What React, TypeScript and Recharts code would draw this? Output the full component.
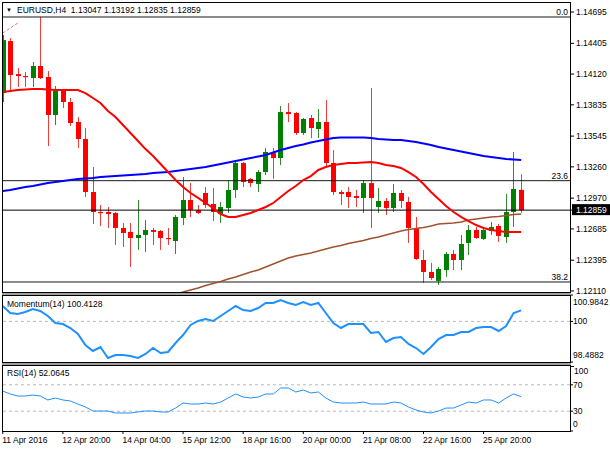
import React from 'react';
import { ComposedChart, Bar, Line, XAxis, YAxis, ReferenceLine } from 'recharts';

const FONT = '"Liberation Sans", Arial, sans-serif';
const FS = 8.5;
const GREEN = '#008000';
const RED = '#ff0000';

const opens = [1.13944, 1.14426, 1.14120, 1.14102, 1.14083, 1.14195, 1.14093, 1.13741, 1.13963, 1.13861,
  1.13676, 1.13518, 1.13027, 1.12842, 1.12842, 1.12833, 1.12694, 1.12657, 1.12601, 1.12629,
  1.12675, 1.12666, 1.12601, 1.12573, 1.12786, 1.12953, 1.12860, 1.13018, 1.12916, 1.12823,
  1.12879, 1.13046, 1.13296, 1.13148, 1.13101, 1.13212, 1.13388, 1.13342, 1.13768, 1.13759,
  1.13574, 1.13713, 1.13611, 1.13676, 1.13296, 1.13027, 1.13027, 1.12990, 1.12972, 1.13110,
  1.12888, 1.12944, 1.12879, 1.13018, 1.12935, 1.12694, 1.12397, 1.12286, 1.12203, 1.12304,
  1.12453, 1.12397, 1.12555, 1.12675, 1.12592, 1.12666, 1.12712, 1.12610, 1.12842, 1.13047];

const highs = [1.14482, 1.14454, 1.14176, 1.14139, 1.14232, 1.14649, 1.14148, 1.14009, 1.13972, 1.13898,
  1.13722, 1.13620, 1.13259, 1.12907, 1.12888, 1.12842, 1.12740, 1.12740, 1.12953, 1.12768,
  1.12694, 1.12675, 1.12694, 1.12814, 1.13166, 1.13110, 1.12907, 1.13073, 1.13064, 1.12935,
  1.13138, 1.13305, 1.13305, 1.13157, 1.13231, 1.13435, 1.13435, 1.13824, 1.13852, 1.13768,
  1.13713, 1.13741, 1.13796, 1.13880, 1.13416, 1.13046, 1.13073, 1.13046, 1.13138, 1.13991,
  1.13064, 1.12972, 1.13101, 1.13046, 1.12981, 1.12796, 1.12490, 1.12369, 1.12332, 1.12471,
  1.12490, 1.12629, 1.12721, 1.12703, 1.12694, 1.12749, 1.12731, 1.13009, 1.13398, 1.13192];

const lows = [1.13861, 1.13972, 1.14000, 1.14000, 1.14000, 1.14074, 1.13453, 1.13648, 1.13805, 1.13639,
  1.13435, 1.12981, 1.12731, 1.12712, 1.12694, 1.12536, 1.12518, 1.12332, 1.12490, 1.12471,
  1.12536, 1.12490, 1.12536, 1.12453, 1.12721, 1.12796, 1.12823, 1.12879, 1.12758, 1.12740,
  1.12833, 1.12972, 1.13073, 1.13073, 1.13027, 1.13185, 1.13148, 1.13277, 1.13676, 1.13555,
  1.13555, 1.13527, 1.13527, 1.13259, 1.12999, 1.12907, 1.12879, 1.12888, 1.12833, 1.12694,
  1.12833, 1.12814, 1.12842, 1.12879, 1.12555, 1.12397, 1.12184, 1.12212, 1.12166, 1.12240,
  1.12304, 1.12304, 1.12443, 1.12592, 1.12582, 1.12629, 1.12564, 1.12555, 1.12703, 1.12835];

const closes = [1.14435, 1.14111, 1.14102, 1.14093, 1.14195, 1.14083, 1.13741, 1.13963, 1.13861, 1.13666,
  1.13518, 1.13027, 1.12842, 1.12833, 1.12823, 1.12694, 1.12647, 1.12601, 1.12629, 1.12675,
  1.12657, 1.12601, 1.12592, 1.12796, 1.12953, 1.12860, 1.12833, 1.12907, 1.12842, 1.12888,
  1.13046, 1.13296, 1.13120, 1.13110, 1.13212, 1.13398, 1.13342, 1.13768, 1.13750, 1.13574,
  1.13704, 1.13620, 1.13676, 1.13296, 1.13027, 1.13009, 1.12981, 1.12972, 1.13110, 1.12972,
  1.12944, 1.12879, 1.13018, 1.12944, 1.12694, 1.12406, 1.12286, 1.12230, 1.12314, 1.12453,
  1.12397, 1.12545, 1.12675, 1.12601, 1.12675, 1.12703, 1.12620, 1.12842, 1.13055, 1.12859];

const maRed = [1.13954, 1.13963, 1.13972, 1.13977, 1.13981, 1.13981, 1.13977, 1.13972, 1.13972, 1.13972,
  1.13972, 1.13944, 1.13898, 1.13852, 1.13778, 1.13722, 1.13648, 1.13574, 1.13500, 1.13425,
  1.13361, 1.13287, 1.13212, 1.13138, 1.13073, 1.13018, 1.12972, 1.12925, 1.12879, 1.12823,
  1.12796, 1.12796, 1.12814, 1.12833, 1.12860, 1.12888, 1.12925, 1.12981, 1.13036, 1.13083,
  1.13138, 1.13175, 1.13231, 1.13259, 1.13277, 1.13287, 1.13296, 1.13296, 1.13300, 1.13305,
  1.13296, 1.13277, 1.13268, 1.13250, 1.13212, 1.13166, 1.13101, 1.13027, 1.12962, 1.12897,
  1.12842, 1.12796, 1.12758, 1.12721, 1.12694, 1.12675, 1.12666, 1.12657, 1.12657, 1.12657];

const maBlue = [1.13036, 1.13046, 1.13060, 1.13073, 1.13083, 1.13097, 1.13110, 1.13120, 1.13129, 1.13138,
  1.13148, 1.13152, 1.13157, 1.13166, 1.13171, 1.13175, 1.13180, 1.13185, 1.13189, 1.13194,
  1.13203, 1.13208, 1.13212, 1.13222, 1.13231, 1.13240, 1.13250, 1.13259, 1.13273, 1.13287,
  1.13300, 1.13314, 1.13328, 1.13342, 1.13356, 1.13370, 1.13393, 1.13416, 1.13435, 1.13453,
  1.13467, 1.13486, 1.13500, 1.13514, 1.13527, 1.13532, 1.13532, 1.13532, 1.13532, 1.13527,
  1.13518, 1.13514, 1.13509, 1.13509, 1.13500, 1.13490, 1.13476, 1.13463, 1.13444, 1.13430,
  1.13416, 1.13402, 1.13388, 1.13375, 1.13361, 1.13351, 1.13342, 1.13333, 1.13328, 1.13324];

const maBrown = [null, null, null, null, null, null, null, null, null, null,
  null, null, null, null, null, null, null, null, null, null,
  1.12017, 1.12036, 1.12054, 1.12078, 1.12101, 1.12119, 1.12138, 1.12161, 1.12179, 1.12198,
  1.12221, 1.12240, 1.12263, 1.12286, 1.12304, 1.12332, 1.12360, 1.12388, 1.12416, 1.12434,
  1.12448, 1.12462, 1.12480, 1.12499, 1.12518, 1.12531, 1.12550, 1.12564, 1.12578, 1.12596,
  1.12610, 1.12629, 1.12647, 1.12666, 1.12680, 1.12689, 1.12698, 1.12712, 1.12731, 1.12735,
  1.12740, 1.12749, 1.12768, 1.12777, 1.12786, 1.12796, 1.12800, 1.12809, 1.12819, 1.12823];

const trendLine = [1.14500, 1.14547, 1.14593];

const momentum = [100.574, 100.314, 100.276, 100.351, 100.463, 100.388, 100.202, 99.941, 99.904, 99.755,
  99.531, 99.121, 98.898, 99.047, 98.637, 98.749, 98.749, 98.712, 98.637, 98.786,
  99.010, 98.823, 98.861, 99.196, 99.494, 99.867, 100.016, 100.090, 100.016, 100.202,
  100.388, 100.574, 100.425, 100.388, 100.500, 100.686, 100.686, 100.798, 100.686, 100.612,
  100.723, 100.612, 100.686, 100.314, 99.941, 99.755, 99.904, 99.904, 99.904, 99.569,
  99.606, 99.233, 99.382, 99.420, 99.159, 99.010, 98.786, 99.047, 99.345, 99.494,
  99.494, 99.606, 99.606, 99.755, 99.792, 99.792, 99.643, 99.829, 100.314, 100.4128];

const rsi = [60.6, 56.1, 53.0, 53.0, 54.5, 53.0, 47.0, 50.0, 47.0, 45.5,
  40.9, 36.4, 30.3, 30.3, 30.3, 27.3, 27.3, 27.3, 28.8, 30.3,
  30.3, 28.8, 28.8, 34.8, 42.4, 40.9, 40.9, 42.4, 40.9, 43.9,
  50.0, 56.1, 51.5, 50.0, 51.5, 56.1, 56.1, 65.2, 65.2, 59.1,
  62.1, 57.6, 59.1, 50.0, 43.9, 42.4, 42.4, 42.4, 43.9, 40.9,
  40.9, 40.9, 43.9, 42.4, 36.4, 31.8, 28.8, 27.3, 30.3, 34.8,
  34.8, 39.4, 43.9, 42.4, 47.0, 47.0, 42.4, 50.0, 56.1, 52.0645];

const emptySlots = 6;
const xTickIndex = [0, 8, 16, 24, 32, 40, 48, 56, 64];
const xTickLabels = ['11 Apr 2016', '12 Apr 20:00', '14 Apr 04:00', '15 Apr 12:00', '18 Apr 16:00',
  '20 Apr 00:00', '21 Apr 08:00', '22 Apr 16:00', '25 Apr 20:00'];
const priceTicks = [1.12110, 1.12395, 1.12685, 1.12970, 1.13260, 1.13545, 1.13835, 1.14120, 1.14405, 1.14695];
const priceDomain = [1.12091, 1.14788];
const fibLevels = [1.14649, 1.13132, 1.12193];
const fibNames = ['0.0', '23.6', '38.2'];
const momTicks = [98.4882, 100, 100.9842];
const momDomain = [98.4882, 100.9842];
const momLevel = 100;
const rsiTicks = [0, 30, 70];
const rsiDomain = [0, 100];
const rsiLevels = [30, 70];

const N = opens.length;
const LAST = closes[N - 1];

const rows = Array.from({ length: N + emptySlots }, (_, i) => {
  if (i >= N) return { i };
  return {
    i,
    range: [lows[i], highs[i]],
    open: opens[i],
    high: highs[i],
    low: lows[i],
    close: closes[i],
    red: maRed[i],
    blue: maBlue[i],
    brown: maBrown[i],
    trend: i < trendLine.length ? trendLine[i] : null,
    mom: momentum[i],
    rsi: rsi[i],
  };
});

const Candle = (props: any) => {
  const { x, y, width, height } = props;
  const d = props.payload || props;
  if (!d || d.high == null || x == null || y == null) return null;
  const top = Math.min(y, y + height);
  const h = Math.abs(height);
  const span = d.high - d.low || 1e-9;
  const py = (v: number) => top + ((d.high - v) / span) * h;
  const up = d.close >= d.open;
  const color = up ? GREEN : RED;
  const wick = up ? '#2e8b2e' : '#f03c3c';
  const cx = Math.round(x + width / 2) + 0.5;
  const bTop = py(Math.max(d.open, d.close));
  const bBot = py(Math.min(d.open, d.close));
  const bh = Math.max(1.2, bBot - bTop);
  return (
    <g>
      <line x1={cx} x2={cx} y1={top} y2={top + h} stroke={wick} strokeWidth={1} />
      <rect x={cx - 2.5} y={bTop} width={5} height={bh} fill={color} />
    </g>
  );
};

const PriceTick = (props: any) => {
  const { x, y, payload } = props;
  const v = payload.value;
  if (v === LAST) {
    return (
      <g>
        <rect x={x - 4} y={y - 6} width={40} height={11} fill="#000" />
        <text x={x} y={y} dy={3} fill="#fff" fontSize={FS} fontFamily={FONT} textAnchor="start">
          {v.toFixed(5)}
        </text>
      </g>
    );
  }
  return (
    <text x={x} y={y} dy={3} fill="#000" fontSize={FS} fontFamily={FONT} textAnchor="start">
      {v.toFixed(5)}
    </text>
  );
};

const makeSubTick = (lo: number, hi: number, fmt: (v: number) => string) => (props: any) => {
  const { x, y, payload } = props;
  const v = payload.value;
  const shift = v === hi ? 7 : v === lo ? -7 : 0;
  return (
    <text x={x} y={y + shift} dy={3} fill="#000" fontSize={FS} fontFamily={FONT} textAnchor="start">
      {fmt(v)}
    </text>
  );
};

const MomTick = makeSubTick(momDomain[0], momDomain[1], (v) => (v === 100 ? '100' : v.toFixed(4)));
const RsiTick = makeSubTick(rsiDomain[0], rsiDomain[1], (v) => String(v));

const TimeTick = (props: any) => {
  const { x, y, payload } = props;
  const k = xTickIndex.indexOf(payload.value);
  if (k < 0) return null;
  return (
    <text x={x - 0.5} y={y} dy={7} fill="#000" fontSize={FS} fontFamily={FONT} textAnchor="start">
      {xTickLabels[k]}
    </text>
  );
};

const FibLabel = (props: any) => {
  const vb = props.viewBox || {};
  return (
    <text x={(vb.x || 0) + (vb.width || 0) - 2} y={(vb.y || 0) - 2} textAnchor="end" fill="#000" fontSize={FS} fontFamily={FONT}>
      {props.text}
    </text>
  );
};

const NoShape = () => null;

const frame = (top: number, height: number): React.CSSProperties => ({
  position: 'absolute', left: 2, top, width: 569, height, border: '1px solid #000',
  boxSizing: 'border-box', pointerEvents: 'none',
});
const sep = (top: number): React.CSSProperties => ({
  position: 'absolute', left: 2, top, width: 569, height: 2, background: '#a0a0a0',
});
const textStyle = (left: number, top: number): React.CSSProperties => ({
  position: 'absolute', left, top, fontSize: FS, lineHeight: '10px', fontFamily: FONT,
  color: '#000', whiteSpace: 'pre',
});

export default function App() {
  return (
    <div style={{ position: 'absolute', left: 0, top: 0, width: 610, height: 450, background: '#fff', overflow: 'hidden' }}>
      <style>{'body{margin:0}'}</style>
      <div style={{ position: 'absolute', left: 0, top: 0 }}>
        <ComposedChart width={610} height={300} data={rows} margin={{ top: 2, right: 0, bottom: 7, left: -1 }}>
          <XAxis dataKey="i" type="category" hide />
          <YAxis
            orientation="right"
            width={40}
            domain={priceDomain}
            allowDataOverflow
            ticks={[...priceTicks, LAST]}
            interval={0}
            axisLine={false}
            tickLine={{ stroke: '#000' }}
            tickSize={4}
            tickMargin={2}
            tick={<PriceTick />}
          />
          {fibLevels.map((lv, k) => (
            <ReferenceLine key={'f' + k} y={lv} stroke="#1a1a1a" strokeWidth={1} label={<FibLabel text={fibNames[k]} />} />
          ))}
          <ReferenceLine y={LAST} stroke="#000" strokeWidth={1} />
          <Bar dataKey="range" barSize={5} shape={Candle} isAnimationActive={false} />
          <Line dataKey="brown" stroke="#a0522d" strokeWidth={1.5} dot={false} isAnimationActive={false} />
          <Line dataKey="blue" stroke="#0000ff" strokeWidth={2} dot={false} isAnimationActive={false} />
          <Line dataKey="red" stroke="#ff0000" strokeWidth={2} dot={false} isAnimationActive={false} />
          <Line dataKey="trend" stroke="#f07070" strokeWidth={1} strokeDasharray="3 2" dot={false} isAnimationActive={false} />
        </ComposedChart>
      </div>
      <div style={{ position: 'absolute', left: 0, top: 290 }}>
        <ComposedChart width={610} height={77} data={rows} margin={{ top: 5, right: 0, bottom: 5, left: -1 }}>
          <XAxis dataKey="i" type="category" hide />
          <YAxis
            orientation="right"
            width={40}
            domain={momDomain}
            allowDataOverflow
            ticks={momTicks}
            interval={0}
            axisLine={false}
            tickLine={{ stroke: '#000' }}
            tickSize={3}
            tickMargin={0}
            tick={<MomTick />}
          />
          <ReferenceLine y={momLevel} stroke="#b8b8b8" strokeDasharray="3 3" />
          <Bar dataKey="none" shape={NoShape} isAnimationActive={false} />
          <Line dataKey="mom" stroke="#1e90ff" strokeWidth={2} dot={false} isAnimationActive={false} />
        </ComposedChart>
      </div>
      <div style={{ position: 'absolute', left: 0, top: 360 }}>
        <ComposedChart width={610} height={91} data={rows} margin={{ top: 5, right: 0, bottom: 0, left: -1 }}>
          <XAxis
            dataKey="i"
            type="category"
            height={20}
            ticks={xTickIndex}
            interval={0}
            axisLine={false}
            tickLine={{ stroke: '#000' }}
            tickSize={3}
            tickMargin={2}
            tick={<TimeTick />}
          />
          <YAxis
            orientation="right"
            width={40}
            domain={rsiDomain}
            allowDataOverflow
            ticks={rsiTicks}
            interval={0}
            axisLine={false}
            tickLine={{ stroke: '#000' }}
            tickSize={3}
            tickMargin={0}
            tick={<RsiTick />}
          />
          {rsiLevels.map((lv) => (
            <ReferenceLine key={'r' + lv} y={lv} stroke="#b8b8b8" strokeDasharray="3 3" />
          ))}
          <Bar dataKey="none" shape={NoShape} isAnimationActive={false} />
          <Line dataKey="rsi" stroke="#1e90ff" strokeWidth={1} dot={false} isAnimationActive={false} />
        </ComposedChart>
      </div>

      <div style={{ position: 'absolute', left: 0, top: 0, width: 2, height: 450, background: '#fff' }} />
      <div style={frame(2, 291)} />
      <div style={sep(293)} />
      <div style={frame(295, 68)} />
      <div style={sep(363)} />
      <div style={frame(365, 67)} />
      <div style={{ position: 'absolute', left: 571, top: 366, width: 3, height: 1, background: '#000' }} />

      <div style={{ ...textStyle(6, 5), fontSize: 6 }}>▼</div>
      <div style={textStyle(17, 5)}>
        {`EURUSD,H4  ${opens[N - 1].toFixed(5)} ${highs[N - 1].toFixed(5)} ${lows[N - 1].toFixed(5)} ${closes[N - 1].toFixed(5)}`}
      </div>
      <div style={textStyle(7, 299)}>{`Momentum(14) ${momentum[N - 1].toFixed(4)}`}</div>
      <div style={textStyle(7, 368)}>{`RSI(14) ${rsi[N - 1].toFixed(4)}`}</div>
      <div style={textStyle(574, 366)}>{String(rsiDomain[1])}</div>
    </div>
  );
}
